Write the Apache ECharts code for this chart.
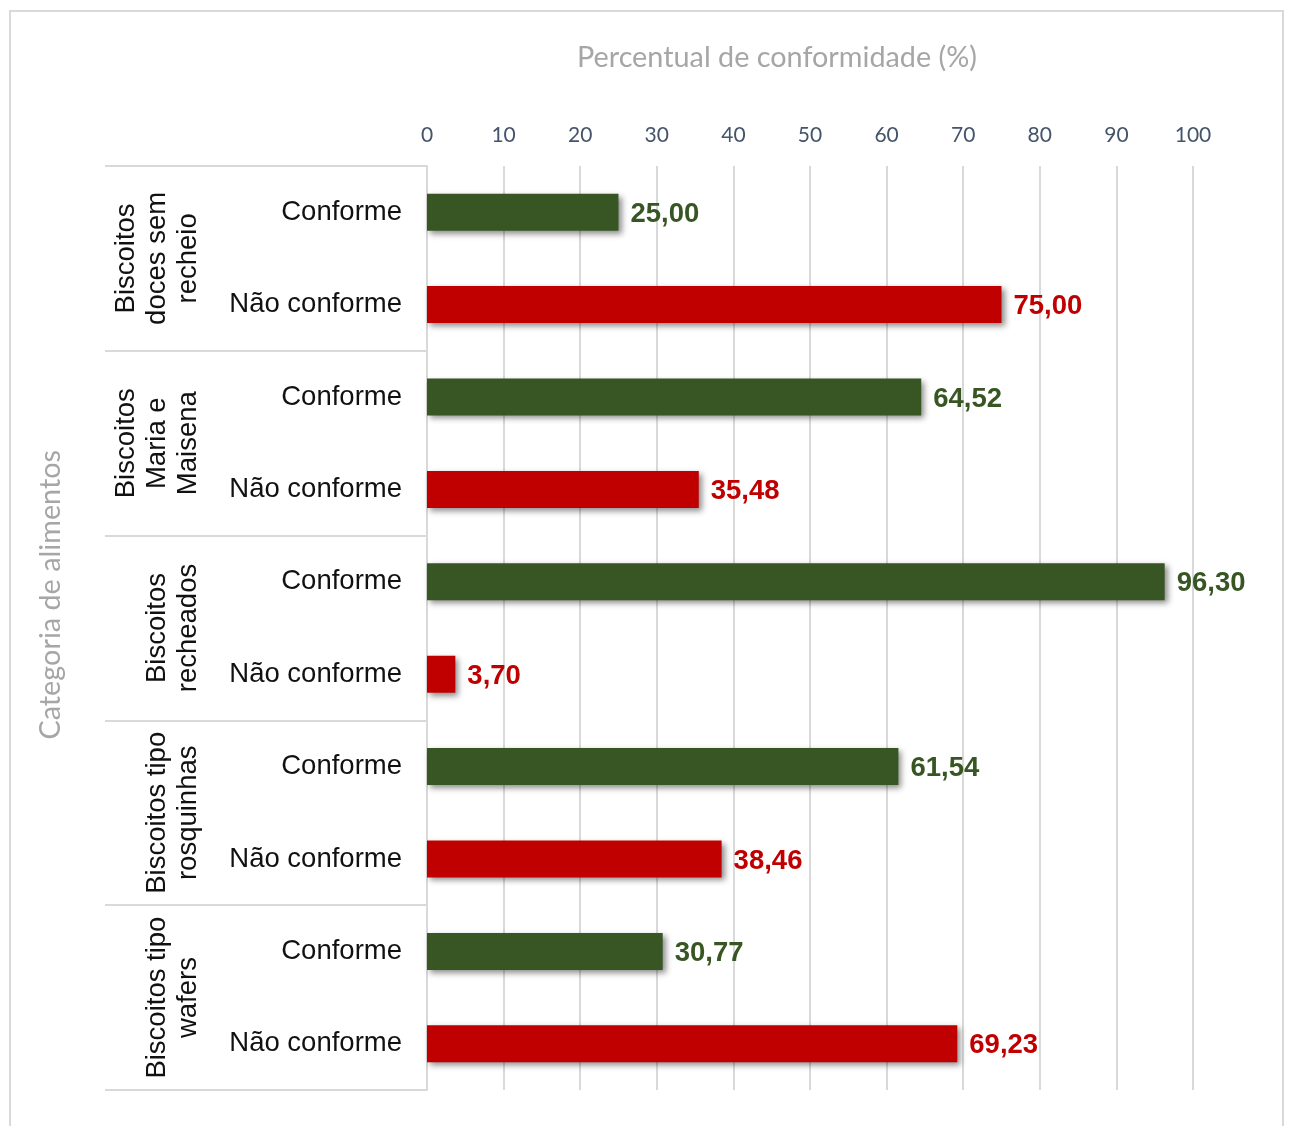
<!DOCTYPE html>
<html>
<head>
<meta charset="utf-8">
<script src="https://cdn.jsdelivr.net/npm/echarts@6/dist/echarts.min.js"></script>
<style>html,body{margin:0;padding:0;background:#fff}#c{width:1289px;height:1126px}</style>
</head>
<body>
<div id="c"></div>
<script>
const groups = ['Biscoitos\ndoces sem\nrecheio', 'Biscoitos\nMaria e\nMaisena', 'Biscoitos\nrecheados', 'Biscoitos tipo\nrosquinhas', 'Biscoitos tipo\nwafers'];
const subLabels = ['Conforme', 'Não conforme'];
const conforme = [25.00, 64.52, 96.30, 61.54, 30.77];
const naoConforme = [75.00, 35.48, 3.70, 38.46, 69.23];
const xTicks = [0, 10, 20, 30, 40, 50, 60, 70, 80, 90, 100];

const GREEN = '#375623', RED = '#C00000', GRID = '#d9d9d9';

const rows = [];
const confData = [], naoData = [];
groups.forEach((g, i) => {
  rows.push(g + '|' + subLabels[0]);
  rows.push(g + '|' + subLabels[1]);
  confData.push(conforme[i], '-');
  naoData.push('-', naoConforme[i]);
});

const fmt = p => Number(p.value).toFixed(2).replace('.', ',');
const shadow = { shadowColor: 'rgba(0,0,0,0.45)', shadowBlur: 6, shadowOffsetX: 3, shadowOffsetY: 3 };

const chart = echarts.init(document.getElementById('c'));
chart.setOption({
  animation: false,
  backgroundColor: '#fff',
  title: {
    text: 'Percentual de conformidade (%)',
    left: 572, top: 38,
    textStyle: { fontFamily: 'Lato', fontSize: 28.8, fontWeight: 'normal', color: '#a6a6a6' }
  },
  graphic: [
    { type: 'rect', shape: { x: 10, y: 11, width: 1273, height: 1135 }, style: { fill: 'none', stroke: GRID, lineWidth: 2 }, z: -10 },
    { type: 'text', left: 36, top: 450, rotation: Math.PI / 2,
      style: { text: 'Categoria de alimentos', fontFamily: 'Lato', fontSize: 28.8, fill: '#a6a6a6' } }
  ],
  grid: { left: 427, right: 96, top: 166, bottom: 36, containLabel: false },
  xAxis: {
    type: 'value', position: 'top', min: 0, max: 100, interval: 10,
    axisLine: { show: false }, axisTick: { show: false },
    axisLabel: { margin: 20, fontFamily: 'Lato', fontSize: 21, color: '#44546A',
      formatter: v => xTicks.includes(v) ? String(v) : '' },
    splitLine: { show: true, lineStyle: { color: GRID, width: 2 } }
  },
  yAxis: [
    {
      type: 'category', data: rows, inverse: true, position: 'left',
      axisLine: { show: true, lineStyle: { color: GRID, width: 2 } },
      axisTick: { show: false },
      axisLabel: { margin: 25, fontFamily: 'Liberation Sans', fontSize: 27.5, color: '#111',
        padding: [6, 0, 0, 0],
        formatter: (v, i) => subLabels[i % 2] }
    },
    {
      type: 'category', data: groups, inverse: true, position: 'left', min: 0, max: groups.length - 1,
      axisLine: { show: false },
      axisTick: { show: true, length: 322, interval: 0, lineStyle: { color: GRID, width: 2 } },
      axisLabel: { rotate: 90, margin: 223, interval: 0, fontFamily: 'Liberation Sans', fontSize: 27.5, lineHeight: 31, color: '#111' }
    }
  ],
  series: [
    { name: subLabels[0], type: 'bar', yAxisIndex: 0, stack: 's', data: confData, barWidth: '40%',
      itemStyle: Object.assign({ color: GREEN }, shadow),
      label: { show: true, position: 'right', distance: 12, offset: [0, 2], formatter: fmt, color: GREEN,
        fontFamily: 'Liberation Sans', fontWeight: 'bold', fontSize: 27.5 } },
    { name: subLabels[1], type: 'bar', yAxisIndex: 0, stack: 's', data: naoData, barWidth: '40%',
      itemStyle: Object.assign({ color: RED }, shadow),
      label: { show: true, position: 'right', distance: 12, offset: [0, 2], formatter: fmt, color: RED,
        fontFamily: 'Liberation Sans', fontWeight: 'bold', fontSize: 27.5 } }
  ]
});
</script>
</body>
</html>
